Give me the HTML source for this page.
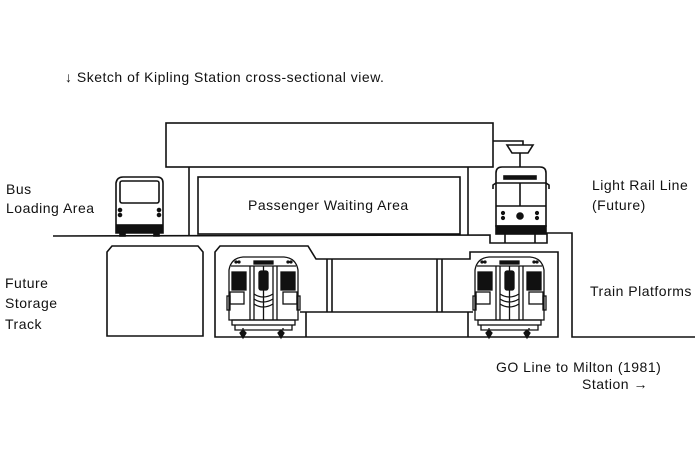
<!DOCTYPE html>
<html><head><style>
html,body{margin:0;padding:0;background:#fff;}
svg{display:block;}
text{font-family:"Liberation Sans",sans-serif;fill:#111;}
</style></head><body>
<svg width="700" height="450" viewBox="0 0 700 450" xmlns="http://www.w3.org/2000/svg">
<defs>
<g id="train" stroke="#111" fill="none" stroke-width="1.3">
  <path d="M2 64 L2 14 Q4 2 16 1 L57 1 Q69 2 71 14 L71 64 Z" fill="#fff"/>
  <line x1="4" y1="10" x2="69" y2="10"/>
  <rect x="27" y="5" width="19" height="3" fill="#111"/>
  <circle cx="9" cy="6" r="1" fill="#111"/><circle cx="12" cy="6" r="1" fill="#111"/>
  <circle cx="61" cy="6" r="1" fill="#111"/><circle cx="64" cy="6" r="1" fill="#111"/>
  <line x1="23" y1="10" x2="23" y2="64"/><line x1="27" y1="10" x2="27" y2="64"/>
  <line x1="46" y1="10" x2="46" y2="64"/><line x1="50" y1="10" x2="50" y2="64"/>
  <line x1="36.5" y1="10" x2="36.5" y2="64"/>
  <rect x="5" y="16" width="14" height="18" fill="#111"/>
  <rect x="32" y="15" width="9" height="19" rx="2" fill="#111"/>
  <rect x="54" y="16" width="14" height="18" fill="#111"/>
  <rect x="3" y="36" width="14" height="12"/>
  <rect x="56" y="36" width="14" height="12"/>
  <path d="M27 38 Q36 44 46 38 M27 43 Q36 49 46 43 M27 48 Q36 54 46 48"/>
  <rect x="0" y="40" width="3" height="14"/><rect x="70" y="40" width="3" height="14"/>
  <rect x="5" y="64" width="63" height="5"/>
  <path d="M8 69 L8 74 L65 74 L65 69"/>
  <path d="M16 74 L16 72 M56 74 L56 72"/>
  <path d="M16 74 l-3 3 l3 5 l3 -5 Z" fill="#111"/>
  <path d="M54 74 l-3 3 l3 5 l3 -5 Z" fill="#111"/>
</g>
</defs>
<g stroke="#111" stroke-width="1.6" fill="none">
  <rect x="166" y="123" width="327" height="44"/>
  <line x1="189" y1="167" x2="189" y2="235"/>
  <line x1="468" y1="167" x2="468" y2="235"/>
  <rect x="198" y="177" width="262" height="57"/>
  <path d="M53 236 L490 235 L490 243 L547 243 L547 233 L572 233 L572 337 L695 337"/>
  <path d="M107 336 L107 252 L112 246 L198 246 L203 252 L203 336 Z"/>
  <path d="M215 337 L215 252 L220 246 L308 246 L316 259 L470 259 L470 252 L558 252 L558 337 Z"/>
  <path d="M306 337 L306 312 L300 312 M300 312 L468 312 L468 337 M468 312 L473 312"/>
  <line x1="327" y1="259" x2="327" y2="312"/><line x1="332" y1="259" x2="332" y2="312"/>
  <line x1="437" y1="259" x2="437" y2="312"/><line x1="442" y1="259" x2="442" y2="312"/>
  <path d="M116 233 L116 183 Q117 177 123 177 L157 177 Q163 177 163 183 L163 233 Z" fill="#fff"/>
  <rect x="120" y="181" width="39" height="22" rx="2"/>
  <rect x="117" y="225" width="45" height="7" fill="#111"/>
  <rect x="120" y="232" width="5" height="4" fill="#111"/><rect x="154" y="232" width="5" height="4" fill="#111"/>
  <circle cx="120" cy="210" r="1.5" fill="#111"/><circle cx="120" cy="215" r="1.5" fill="#111"/>
  <circle cx="159" cy="210" r="1.5" fill="#111"/><circle cx="159" cy="215" r="1.5" fill="#111"/>
  <path d="M493 141 L523 141 L523 145"/>
  <path d="M507 145 L533 145 L528 153 L512 153 Z"/>
  <line x1="520" y1="153" x2="520" y2="167"/>
  <path d="M496 226 L496 173 Q496 167 502 167 L540 167 Q546 167 546 173 L546 226 Z" fill="#fff"/>
  <rect x="504" y="176" width="32" height="3" fill="#111"/>
  <line x1="496" y1="183" x2="546" y2="183"/>
  <line x1="520" y1="183" x2="520" y2="206"/>
  <line x1="496" y1="206" x2="546" y2="206"/>
  <path d="M496 183 l-3 2 l0 4 M546 183 l3 2 l0 4"/>
  <circle cx="520" cy="216" r="3" fill="#111"/>
  <circle cx="503" cy="213" r="1.3" fill="#111"/><circle cx="503" cy="218" r="1.3" fill="#111"/>
  <circle cx="537" cy="213" r="1.3" fill="#111"/><circle cx="537" cy="218" r="1.3" fill="#111"/>
  <rect x="496" y="226" width="50" height="8" fill="#111"/>
  <line x1="505" y1="234" x2="505" y2="243"/><line x1="535" y1="234" x2="535" y2="243"/>
</g>
<use href="#train" x="227" y="256"/>
<use href="#train" x="473" y="256"/>
<g font-size="14" letter-spacing="0.5">
  <text x="65" y="82">↓ Sketch of Kipling Station cross-sectional view.</text>
  <text x="6" y="194">Bus</text>
  <text x="6" y="213">Loading Area</text>
  <text x="248" y="210">Passenger Waiting Area</text>
  <text x="592" y="190">Light Rail Line</text>
  <text x="592" y="210">(Future)</text>
  <text x="5" y="288">Future</text>
  <text x="5" y="308">Storage</text>
  <text x="5" y="329">Track</text>
  <text x="590" y="296">Train Platforms</text>
  <text x="496" y="372">GO Line to Milton (1981)</text>
  <text x="582" y="389">Station →</text>
</g>
</svg>
</body></html>
